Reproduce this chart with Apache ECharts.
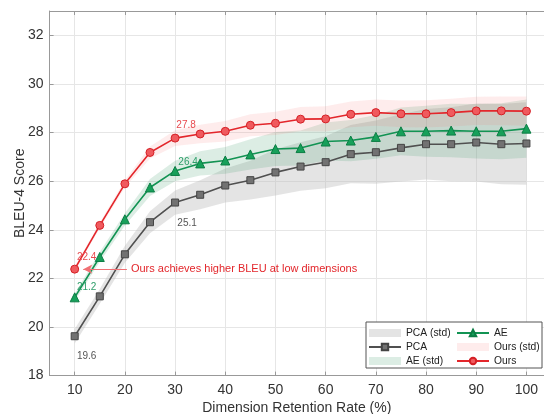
<html>
<head>
<meta charset="UTF-8" />
<title>BLEU-4 vs dimension</title>
</head>
<body style="margin:0;background:#fff;">
<div id="main" style="width:544px;height:414px;"></div>
<script type="text/javascript" src="https://cdn.jsdelivr.net/npm/echarts@6.0.0/dist/echarts.min.js"></script>
<script type="text/javascript">
// retention rate (%)
var rates = [10, 15, 20, 25, 30, 35, 40, 45, 50, 55, 60, 65, 70, 75, 80, 85, 90, 95, 100];
var xTicks = [10, 20, 30, 40, 50, 60, 70, 80, 90, 100];
var yTicks = [18, 20, 22, 24, 26, 28, 30, 32];

var pcaMean = [19.62, 21.26, 22.99, 24.31, 25.12, 25.44, 25.82, 26.04, 26.36, 26.60, 26.78, 27.11, 27.19, 27.37, 27.52, 27.52, 27.59, 27.52, 27.55];
var pcaStd  = [0.30, 0.30, 0.35, 0.45, 0.50, 0.60, 0.70, 0.80, 0.95, 1.00, 1.07, 1.20, 1.30, 1.38, 1.45, 1.52, 1.60, 1.65, 1.70];
var aeMean  = [21.22, 22.88, 24.43, 25.74, 26.42, 26.73, 26.85, 27.10, 27.32, 27.36, 27.63, 27.67, 27.82, 28.05, 28.05, 28.08, 28.05, 28.05, 28.16];
var aeStd   = [0.15, 0.20, 0.25, 0.35, 0.42, 0.50, 0.55, 0.62, 0.70, 0.72, 0.78, 0.85, 0.90, 0.98, 1.05, 1.10, 1.12, 1.15, 1.20];
var oursMean = [22.38, 24.18, 25.89, 27.18, 27.77, 27.94, 28.05, 28.30, 28.38, 28.55, 28.56, 28.75, 28.82, 28.77, 28.77, 28.82, 28.89, 28.89, 28.88];
var oursStd  = [0.10, 0.12, 0.15, 0.25, 0.32, 0.38, 0.42, 0.45, 0.48, 0.50, 0.52, 0.53, 0.54, 0.55, 0.56, 0.57, 0.58, 0.59, 0.60];

var noteText = 'Ours achieves higher BLEU at low dimensions';

var FONT = "'Liberation Sans', Arial, sans-serif";

var myChart = echarts.init(document.getElementById('main'), null, {renderer: 'canvas'});

// std band drawn as one polygon (mean-std .. mean+std)
function bandSeries(name, mean, std, color) {
    return {
        name: name,
        type: 'custom',
        itemStyle: {color: color},
        data: rates.map(function (x, i) { return [x, mean[i]]; }),
        renderItem: function (params, api) {
            if (params.dataIndex !== 0) return;
            var pts = [];
            for (var i = 0; i < rates.length; i++) pts.push(api.coord([rates[i], mean[i] + std[i]]));
            for (var j = rates.length - 1; j >= 0; j--) pts.push(api.coord([rates[j], mean[j] - std[j]]));
            return {
                type: 'polygon',
                shape: {points: pts},
                style: {fill: color, stroke: null}
            };
        },
        silent: true
    };
}

// data labels, by index
function lineData(mean, labels, color) {
    return rates.map(function (x, i) {
        var item = {value: [x, mean[i]]};
        if (labels[i]) {
            item.label = {
                show: true,
                position: 'inside',
                offset: labels[i],
                color: color,
                fontSize: 10,
                fontFamily: FONT,
                formatter: function (p) { return p.value[1].toFixed(1); }
            };
        }
        return item;
    });
}

function lineSeries(name, mean, labels, symbol, size, lineColor, fill, edge, labelColor) {
    return {
        name: name,
        type: 'line',
        data: lineData(mean, labels, labelColor),
        symbol: symbol,
        symbolSize: size,
        showAllSymbol: true,
        lineStyle: {color: lineColor, width: 1.6},
        itemStyle: {color: fill, borderColor: edge, borderWidth: 1},
        emphasis: {disabled: true}
    };
}

var oursLine = lineSeries('Ours', oursMean, {0: [12, -12], 4: [11, -13]}, 'circle', 8, '#e3262b', '#f05a5e', '#d42026', '#e84a4f');
oursLine.markLine = {
    silent: true,
    symbol: ['none', 'arrow'],
    symbolSize: [7, 9],
    label: {show: false},
    lineStyle: {color: '#f07074', width: 1, type: 'solid'},
    data: [[{coord: [20.4, oursMean[0]]}, {coord: [11.7, oursMean[0]]}]]
};
oursLine.markPoint = {
    silent: true,
    symbol: 'circle',
    symbolSize: 0,
    label: {
        show: true,
        position: 'right',
        distance: 0,
        formatter: noteText,
        color: '#e3262b',
        fontSize: 11,
        fontFamily: FONT
    },
    data: [{coord: [21.2, oursMean[0]]}]
};

var option = {
    animation: false,
    textStyle: {fontFamily: FONT},
    grid: {left: 49.6, top: 11, right: 0, bottom: 38.4, outerBoundsMode: 'none', containLabel: false},
    xAxis: [{
        type: 'value',
        min: 5,
        max: 103.5,
        name: 'Dimension Retention Rate (%)',
        nameLocation: 'middle',
        nameGap: 26,
        nameMoveOverlap: false,
        nameTextStyle: {fontSize: 14, color: '#333', fontFamily: FONT},
        axisLine: {lineStyle: {color: '#999'}},
        axisTick: {inside: true, length: 4, lineStyle: {color: '#999'}, customValues: xTicks},
        axisLabel: {fontSize: 14, color: '#333', margin: 8, fontFamily: FONT, customValues: xTicks},
        splitLine: {show: true, lineStyle: {color: '#e6e6e6'}}
    }, {
        type: 'value',
        position: 'top',
        min: 5,
        max: 103.5,
        axisLine: {show: true, lineStyle: {color: '#999'}},
        axisTick: {inside: true, length: 4, lineStyle: {color: '#999'}, customValues: xTicks},
        axisLabel: {show: false},
        splitLine: {show: false}
    }],
    yAxis: {
        type: 'value',
        min: 18,
        max: 33,
        name: 'BLEU-4 Score',
        nameLocation: 'middle',
        nameGap: 22,
        nameMoveOverlap: false,
        nameTextStyle: {fontSize: 14, color: '#333', fontFamily: FONT},
        axisLine: {show: true, lineStyle: {color: '#999'}},
        axisTick: {show: true, inside: true, length: 4, lineStyle: {color: '#999'}, customValues: yTicks},
        axisLabel: {fontSize: 14, color: '#333', margin: 6, fontFamily: FONT, customValues: yTicks},
        splitLine: {show: true, lineStyle: {color: '#e6e6e6'}}
    },
    legend: [{
        orient: 'vertical',
        left: 368,
        top: 326.5,
        padding: 0,
        itemGap: 1,
        itemWidth: 32,
        itemHeight: 8,
        textStyle: {fontSize: 10.3, color: '#222', fontFamily: FONT, lineHeight: 13},
        data: [
            {name: 'PCA (std)', icon: 'rect'},
            {name: 'PCA'},
            {name: 'AE (std)', icon: 'rect'}
        ]
    }, {
        orient: 'vertical',
        left: 456,
        top: 326.5,
        padding: 0,
        itemGap: 1,
        itemWidth: 32,
        itemHeight: 8,
        textStyle: {fontSize: 10.3, color: '#222', fontFamily: FONT, lineHeight: 13},
        data: [
            {name: 'AE'},
            {name: 'Ours (std)', icon: 'rect'},
            {name: 'Ours'}
        ]
    }],
    graphic: [{
        type: 'rect',
        z: 3,
        shape: {x: 366, y: 322, width: 176, height: 46},
        style: {fill: '#fff', stroke: '#555', lineWidth: 1}
    }],
    series: [
        bandSeries('PCA (std)', pcaMean, pcaStd, 'rgba(190,190,190,0.42)'),
        lineSeries('PCA', pcaMean, {0: [12, 20], 4: [12, 21]}, 'rect', 7, '#505050', '#727272', '#444', '#555'),
        bandSeries('AE (std)', aeMean, aeStd, 'rgba(40,140,90,0.16)'),
        lineSeries('AE', aeMean, {0: [12, -10], 4: [13, -9]}, 'triangle', 9, '#129353', '#17a05a', '#0b7d44', '#2e9e6a'),
        bandSeries('Ours (std)', oursMean, oursStd, 'rgba(245,110,110,0.13)'),
        oursLine
    ]
};

myChart.setOption(option);
</script>
</body>
</html>
